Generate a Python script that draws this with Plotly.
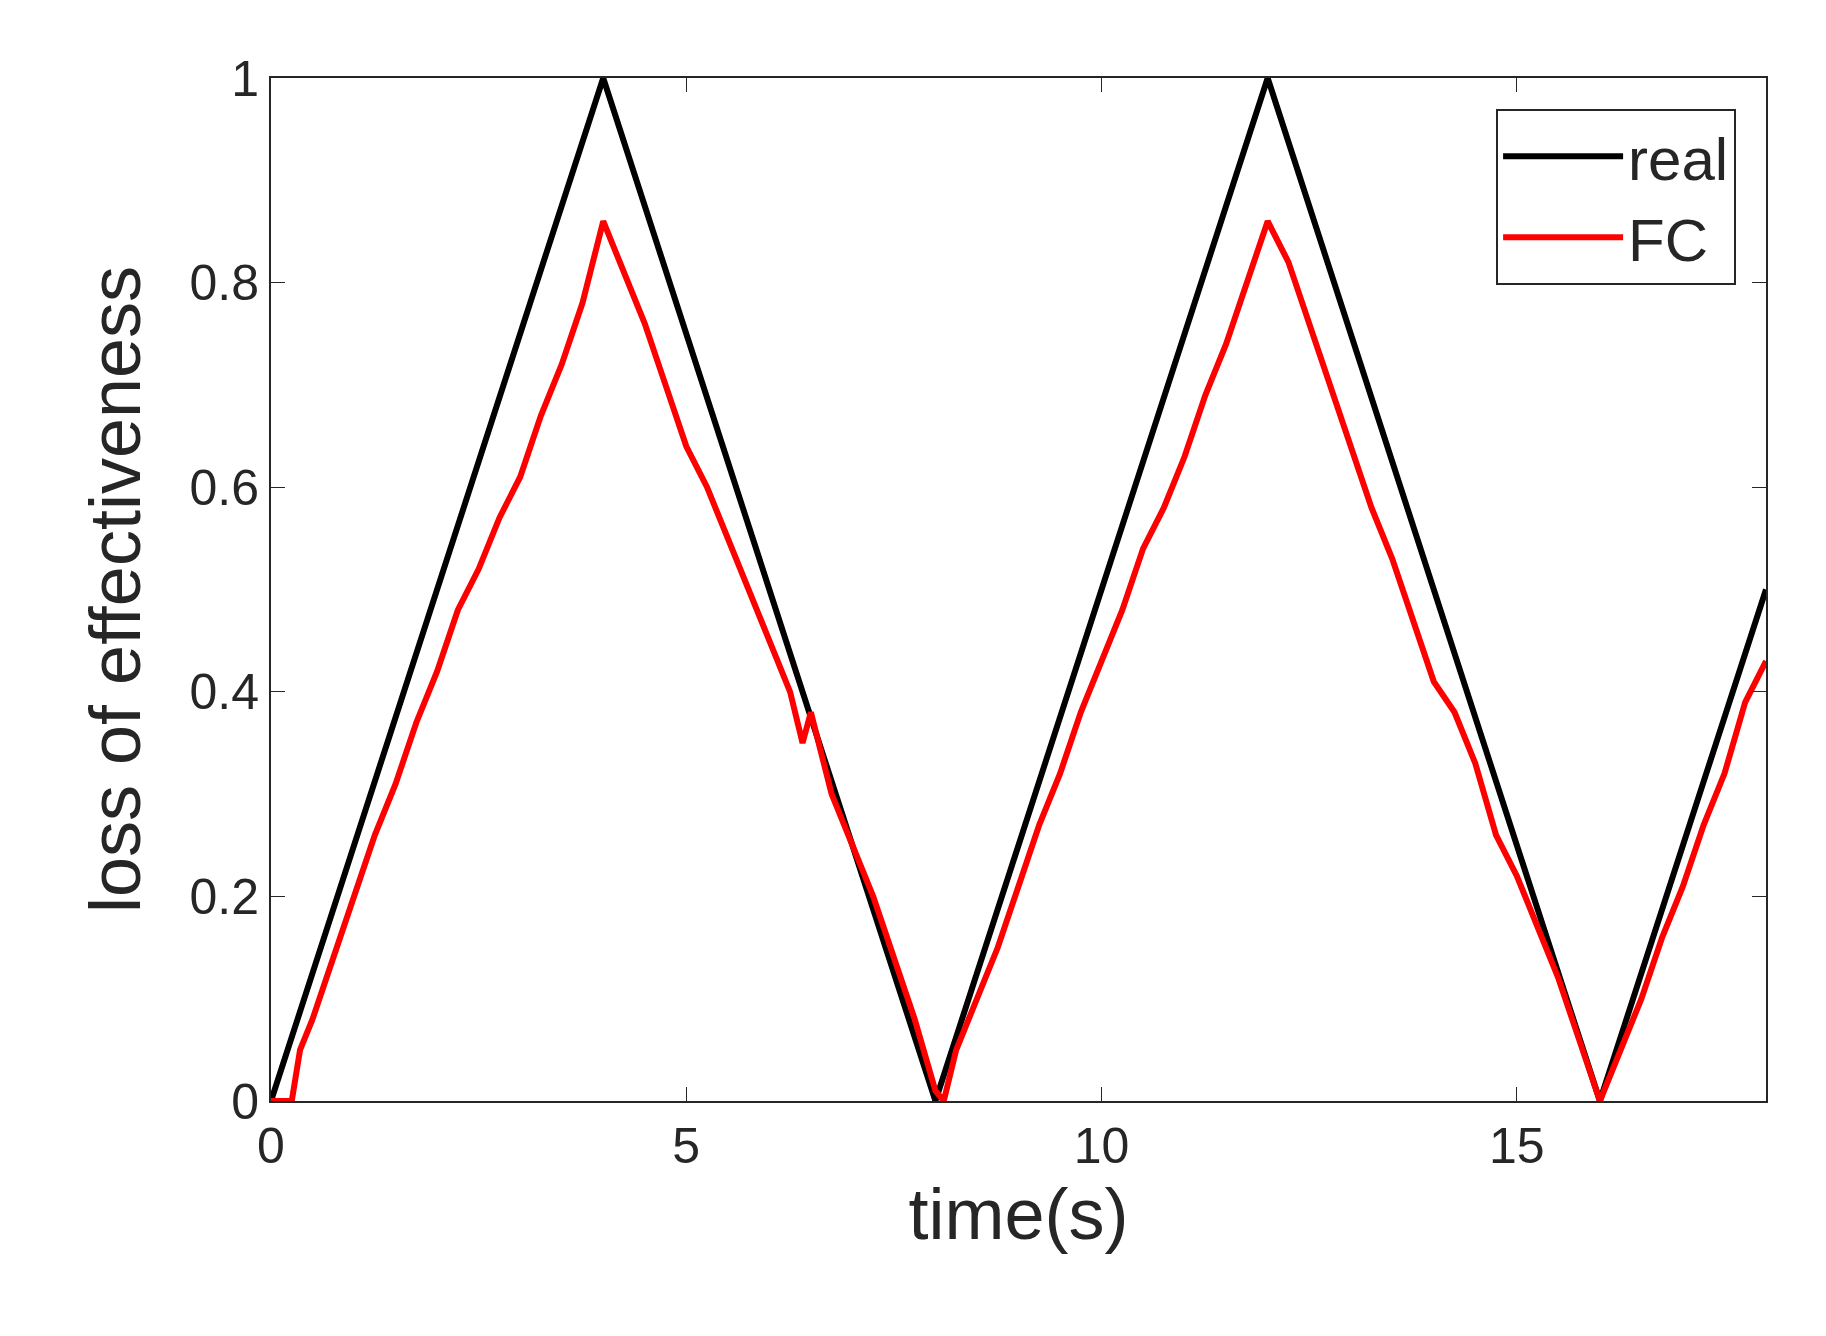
import plotly.graph_objects as go

real_t = [0, 4, 8, 12, 16, 18]
real_y = [0, 1, 0, 1, 0, 0.5]

fc_t = [0,0.25,0.35,0.5,0.75,1.0,1.25,1.5,1.75,2.0,2.25,2.5,2.75,3.0,3.25,3.5,3.75,4.0,4.1,4.25,4.5,4.75,5.0,5.25,5.5,5.75,6.0,6.25,6.4,6.5,6.75,7.0,7.25,7.5,7.75,8.0,8.1,8.25,8.5,8.75,9.0,9.25,9.5,9.75,10.0,10.25,10.5,10.75,11.0,11.25,11.5,11.75,12.0,12.25,12.5,12.75,13.0,13.25,13.5,13.75,14.0,14.25,14.5,14.75,15.0,15.25,15.5,15.75,16.0,16.25,16.5,16.75,17.0,17.25,17.5,17.75,18.0]
fc_y = [0,0,0.05,0.08,0.14,0.2,0.26,0.31,0.37,0.42,0.48,0.52,0.57,0.61,0.67,0.72,0.78,0.86,0.84,0.81,0.76,0.7,0.64,0.6,0.55,0.5,0.45,0.4,0.35,0.38,0.3,0.25,0.2,0.14,0.08,0.01,0.0,0.05,0.1,0.15,0.21,0.27,0.32,0.38,0.43,0.48,0.54,0.58,0.63,0.69,0.74,0.8,0.86,0.82,0.76,0.7,0.64,0.58,0.53,0.47,0.41,0.38,0.33,0.26,0.22,0.17,0.12,0.06,0.0,0.05,0.1,0.16,0.21,0.27,0.32,0.39,0.43]

fig = go.Figure()
fig.add_trace(go.Scatter(x=real_t, y=real_y, mode="lines", name="real", line=dict(color="black", width=6)))
fig.add_trace(go.Scatter(x=fc_t, y=fc_y, mode="lines", name="FC", line=dict(color="red", width=6)))

ax = dict(showgrid=False, zeroline=False, showline=True, linecolor="#262626", linewidth=2, mirror="ticks",
          ticks="inside", ticklen=14, tickcolor="#262626", tickfont=dict(size=50, color="#262626"))
fig.update_layout(
    width=1826, height=1336, paper_bgcolor="white", plot_bgcolor="white",
    font=dict(family="Liberation Sans, Arial", color="#262626"),
    margin=dict(l=263, r=68, t=70, b=243),
    xaxis=dict(ax, range=[0, 18], tickvals=[0, 5, 10, 15],
               title=dict(text="time(s)", font=dict(size=72), standoff=15)),
    yaxis=dict(ax, range=[0, 1], tickvals=[0, 0.2, 0.4, 0.6, 0.8, 1], ticktext=["0","0.2","0.4","0.6","0.8","1"],
               title=dict(text="loss of effectiveness", font=dict(size=72), standoff=25)),
    legend=dict(x=0.98, y=0.97, xanchor="right", yanchor="top", bgcolor="white",
                bordercolor="#262626", borderwidth=2, font=dict(size=60), itemwidth=120),
    showlegend=True,
)
fig.write_html("out.html")
